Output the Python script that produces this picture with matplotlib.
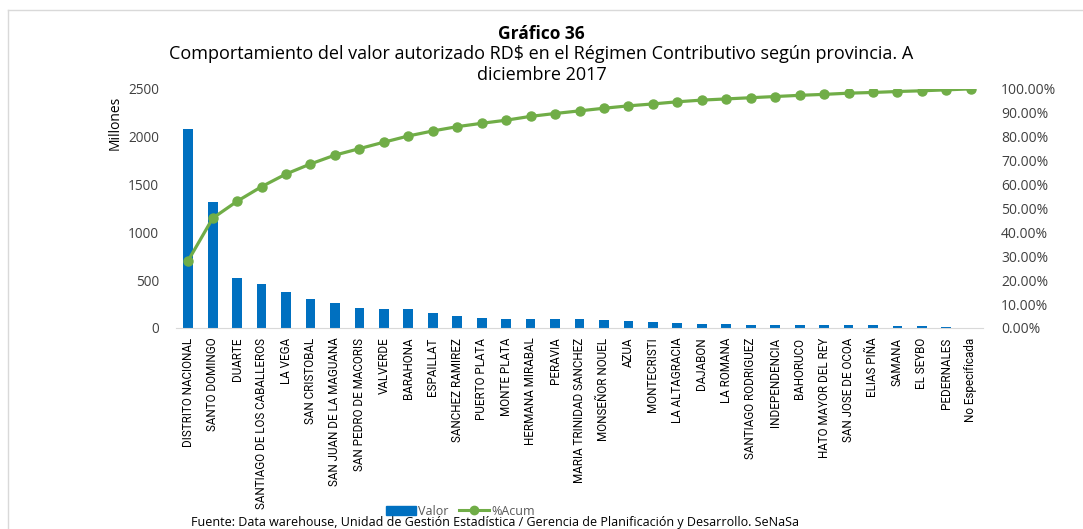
import matplotlib.pyplot as plt
from matplotlib.lines import Line2D
from matplotlib.patches import Patch
from matplotlib.ticker import FuncFormatter

# data
provincias = ['DISTRITO NACIONAL', 'SANTO DOMINGO', 'DUARTE', 'SANTIAGO DE LOS CABALLEROS',
              'LA VEGA', 'SAN CRISTOBAL', 'SAN JUAN DE LA MAGUANA', 'SAN PEDRO DE MACORIS',
              'VALVERDE', 'BARAHONA', 'ESPAILLAT', 'SANCHEZ RAMIREZ', 'PUERTO PLATA',
              'MONTE PLATA', 'HERMANA MIRABAL', 'PERAVIA', 'MARIA TRINIDAD SANCHEZ',
              'MONSEÑOR NOUEL', 'AZUA', 'MONTECRISTI', 'LA ALTAGRACIA', 'DAJABON',
              'LA ROMANA', 'SANTIAGO RODRIGUEZ', 'INDEPENDENCIA', 'BAHORUCO',
              'HATO MAYOR DEL REY', 'SAN JOSE DE OCOA', 'ELIAS PIÑA', 'SAMANA', 'EL SEYBO',
              'PEDERNALES', 'No Especificada']
valor = [2085, 1315, 520, 460, 377, 303, 261, 209, 202, 195, 157, 122, 105, 94, 91, 91,
         91, 84, 70, 60, 52, 38, 38, 31, 31, 31, 31, 31, 31, 21, 21, 7, 0]
acum = [28.2, 45.9, 53.0, 59.1, 64.4, 68.6, 72.3, 75.0, 77.7, 80.3, 82.4, 84.2, 85.6,
        86.9, 88.5, 89.7, 90.8, 91.9, 92.9, 93.7, 94.6, 95.3, 95.8, 96.3, 96.8, 97.3,
        97.7, 98.2, 98.5, 98.9, 99.2, 99.6, 100.0]

azul = '#0070C0'
verde = '#70AD47'
plt.rcParams['font.family'] = ['Open Sans', 'DejaVu Sans']

fig = plt.figure(figsize=(10.83, 5.29), dpi=100)
ax = fig.add_axes([0.1625, 0.380, 0.7452, 0.452])
x = list(range(len(provincias)))

ax.bar(x, valor, width=0.4, color=azul, zorder=2)
ax.set_xlim(-0.5, len(provincias) - 0.5)
ax.set_ylim(0, 2500)
ax.set_yticks(range(0, 2501, 500))
ax.set_xticks(x)
ax.set_xticklabels(provincias, rotation=90, family=['Roboto', 'DejaVu Sans'], fontsize=8.4)
ax.tick_params(axis='y', length=0, labelsize=9.8, colors='#404040', pad=12)
ax.tick_params(axis='x', length=0, colors='black', pad=7)
for s in ['top', 'left', 'right']:
    ax.spines[s].set_visible(False)
ax.spines['bottom'].set_color('#d9d9d9')
ax.text(-0.075, 0.97, 'Millones', transform=ax.transAxes, rotation=90,
        ha='center', va='top', fontsize=10)

ax2 = ax.twinx()
ax2.plot(x, acum, color=verde, lw=2.3, marker='o', markersize=6.5, zorder=3)
ax2.set_ylim(0, 100)
ax2.set_yticks(range(0, 101, 10))
ax2.yaxis.set_major_formatter(FuncFormatter(lambda v, p: '%.2f%%' % v))
ax2.tick_params(axis='y', length=0, labelsize=10, colors='#404040', pad=13)
for s in ax2.spines.values():
    s.set_visible(False)

fig.text(0.5, 0.936, 'Gráfico 36', ha='center', va='center', fontsize=12.5, weight='bold')
fig.text(0.5, 0.897, 'Comportamiento del valor autorizado RD$ en el Régimen Contributivo según provincia. A',
         ha='center', va='center', fontsize=13)
fig.text(0.5, 0.858, 'diciembre 2017', ha='center', va='center', fontsize=13)

handles = [Patch(color=azul),
           Line2D([], [], color=verde, lw=2.2, marker='o', markersize=6)]
fig.legend(handles, ['Valor', '%Acum'], loc='center', bbox_to_anchor=(0.425, 0.034),
           ncol=2, frameon=False, fontsize=9, handlelength=2.4, columnspacing=0.8,
           handletextpad=0.2, labelcolor='#595959')
fig.text(0.457, 0.012, 'Fuente: Data warehouse, Unidad de Gestión Estadística / Gerencia de '
         'Planificación y Desarrollo. SeNaSa', ha='center', va='center', fontsize=9)

# marco gris del gráfico
fig.add_artist(Line2D([8 / 1083, 1], [1 - 10 / 529, 1 - 10 / 529], color='#d9d9d9', lw=1))
fig.add_artist(Line2D([8 / 1083, 8 / 1083], [0, 1 - 10 / 529], color='#d9d9d9', lw=1))

fig.savefig('out.png', dpi=100)
